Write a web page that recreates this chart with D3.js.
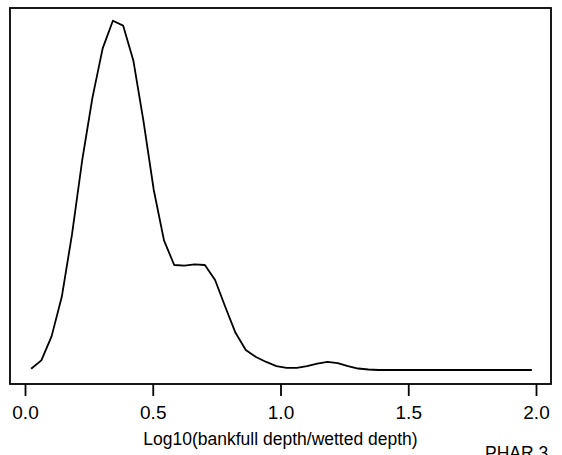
<!DOCTYPE html>
<html>
<head>
<meta charset="utf-8">
<script src="https://cdn.jsdelivr.net/npm/d3@7"></script>
<style>
  body { margin: 0; background: #fff; }
  text { font-family: "Liberation Sans", Arial, sans-serif; fill: #000; }
</style>
</head>
<body>
<div id="wrap"></div>
<script>
// density estimate, x = log10(bankfull/wetted depth)
var xVals = [0.024, 0.064, 0.104, 0.144, 0.184, 0.224, 0.264, 0.304, 0.344, 0.384,
             0.424, 0.464, 0.504, 0.544, 0.584, 0.624, 0.664, 0.704, 0.744, 0.784,
             0.824, 0.864, 0.904, 0.944, 0.984, 1.024, 1.064, 1.104, 1.144, 1.184,
             1.224, 1.264, 1.304, 1.344, 1.384, 1.424, 1.464, 1.504, 1.544, 1.584,
             1.624, 1.664, 1.704, 1.744, 1.784, 1.824, 1.864, 1.904, 1.944, 1.984];
var densVals = [0.01, 0.08, 0.28, 0.61, 1.13, 1.75, 2.27, 2.68, 2.91, 2.87,
                2.58, 2.07, 1.50, 1.08, 0.875, 0.87, 0.88, 0.875, 0.75, 0.525,
                0.31, 0.167, 0.108, 0.067, 0.033, 0.017, 0.017, 0.033, 0.054, 0.067,
                0.058, 0.033, 0.0125, 0.004, 0, 0, 0, 0, 0, 0,
                0, 0, 0, 0, 0, 0, 0, 0, 0, 0];
var xTicks = [0, 0.5, 1, 1.5, 2];
var xTitle = 'Log10(bankfull depth/wetted depth)';
var tag = 'PHAR.3';

var width = 562, height = 455;
var box = {left: 10, top: 8, right: 551, bottom: 384};

var svg = d3.select('#wrap').append('svg')
      .attr('width', width)
      .attr('height', height);

var x = d3.scaleLinear()
      .domain([0, 2])
      .range([25, 536]),
    y = d3.scaleLinear()
      .domain([0, 3])
      .range([370, 10]);

var pts = xVals.map(function(d, i){ return [d, densVals[i]]; });

svg.append('rect')
  .attr('x', box.left)
  .attr('y', box.top)
  .attr('width', box.right - box.left)
  .attr('height', box.bottom - box.top)
  .attr('fill', 'none')
  .attr('stroke', '#000')
  .attr('stroke-width', 1.8);

var line = d3.line()
  .x(function(d){ return x(d[0]); })
  .y(function(d){ return y(d[1]); });

svg.append('path')
  .datum(pts)
  .attr('d', line)
  .attr('fill', 'none')
  .attr('stroke', '#000')
  .attr('stroke-width', 1.8)
  .attr('stroke-linejoin', 'round');

var axis = d3.axisBottom(x)
  .tickValues(xTicks)
  .tickFormat(d3.format('.1f'))
  .tickSize(12)
  .tickPadding(10);

var g = svg.append('g')
  .attr('transform', 'translate(0,' + box.bottom + ')')
  .call(axis);
g.select('.domain').remove();
g.selectAll('.tick line').attr('stroke', '#000').attr('stroke-width', 1.8);
g.selectAll('.tick text')
  .attr('font-size', 19)
  .style('font-family', '"Liberation Sans", Arial, sans-serif');

svg.append('text')
  .attr('x', (box.left + box.right) / 2)
  .attr('y', 445)
  .attr('text-anchor', 'middle')
  .attr('font-size', 17.5)
  .text(xTitle);

svg.append('text')
  .attr('x', 485)
  .attr('y', 459)
  .attr('font-size', 17.5)
  .text(tag);
</script>
</body>
</html>
